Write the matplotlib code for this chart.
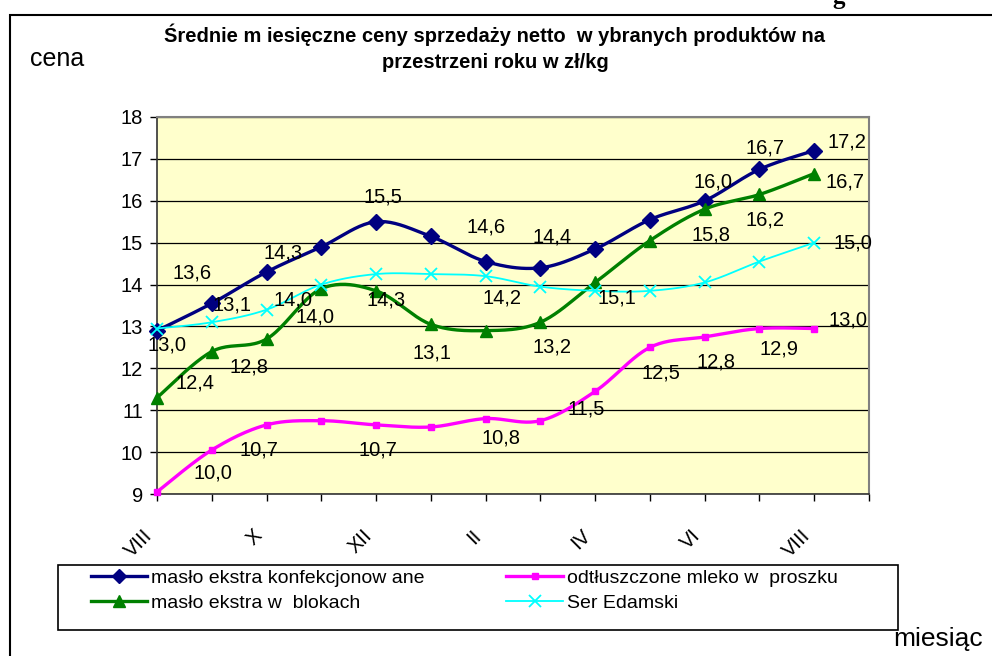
import numpy as np
import matplotlib
matplotlib.use('Agg')
import matplotlib.pyplot as plt
import matplotlib.transforms as mtransforms
from matplotlib.lines import Line2D
from matplotlib.patches import Rectangle

plt.rcParams['font.family'] = ['Liberation Sans', 'DejaVu Sans']

# months (points at every category, labels on every other one)
months = ['VIII', 'IX', 'X', 'XI', 'XII', 'I', 'II', 'III', 'IV', 'V', 'VI', 'VII', 'VIII']

# prices zł/kg
maslo_konf = [12.9, 13.55, 14.3, 14.9, 15.5, 15.15, 14.55, 14.4, 14.85, 15.55, 16.0, 16.75, 17.2]
mleko = [9.05, 10.05, 10.65, 10.75, 10.65, 10.6, 10.8, 10.75, 11.45, 12.5, 12.75, 12.95, 12.95]
maslo_blok = [11.3, 12.4, 12.7, 13.9, 13.85, 13.05, 12.9, 13.1, 14.05, 15.05, 15.8, 16.15, 16.65]
ser = [12.95, 13.1, 13.4, 14.0, 14.25, 14.25, 14.2, 13.95, 13.85, 13.85, 14.05, 14.55, 15.0]

series_names = ['masło ekstra konfekcjonow ane', 'odtłuszczone mleko w  proszku',
                'masło ekstra w  blokach', 'Ser Edamski']

# data labels as they stand on the chart: (text, x, y) in data units
data_labels = [
    ('13,6', 0.64, 14.28), ('14,3', 2.30, 14.75), ('15,5', 4.12, 16.09),
    ('14,6', 6.01, 15.37), ('14,4', 7.21, 15.14), ('16,0', 10.16, 16.45),
    ('16,7', 11.11, 17.26), ('17,2', 12.60, 17.40),
    ('13,1', 1.37, 13.51), ('14,0', 2.48, 13.63), ('14,0', 2.88, 13.23),
    ('14,3', 4.19, 13.63), ('14,2', 6.30, 13.68), ('15,1', 8.40, 13.68),
    ('15,0', 12.71, 14.99),
    ('13,0', 0.18, 12.56), ('12,4', 0.69, 11.65), ('12,8', 1.68, 12.03),
    ('13,1', 5.03, 12.37), ('13,2', 7.21, 12.51), ('15,8', 10.11, 15.18),
    ('16,2', 11.11, 15.54), ('16,7', 12.57, 16.45),
    ('10,0', 1.02, 9.50), ('10,7', 1.86, 10.05), ('10,7', 4.04, 10.05),
    ('10,8', 6.28, 10.34), ('11,5', 7.83, 11.03), ('12,5', 9.20, 11.89),
    ('12,8', 10.20, 12.15), ('12,9', 11.35, 12.46), ('13,0', 12.62, 13.16),
]


def smooth(values, n=24):
    # Excel-like smoothed line (Catmull-Rom as cubic Bezier)
    p = np.column_stack([np.arange(len(values)), np.asarray(values, float)])
    pp = np.vstack([p[0], p, p[-1]])
    t = np.linspace(0, 1, n)[:, None]
    out = []
    for i in range(len(p) - 1):
        b0 = pp[i + 1]
        b3 = pp[i + 2]
        b1 = b0 + (pp[i + 2] - pp[i]) / 6
        b2 = b3 - (pp[i + 3] - pp[i + 1]) / 6
        seg = ((1 - t) ** 3) * b0 + 3 * ((1 - t) ** 2) * t * b1 + 3 * (1 - t) * t ** 2 * b2 + t ** 3 * b3
        out.append(seg if i == 0 else seg[1:])
    out = np.vstack(out)
    return out[:, 0], out[:, 1]


fig = plt.figure(figsize=(9.92, 6.56), dpi=100)
ax = fig.add_axes([157 / 992, 1 - 494 / 656, (869 - 157) / 992, (494 - 117) / 656])
ax.set_facecolor('#FFFFCC')

styles = [
    dict(color='#000080', lw=2.4, marker='D', ms=8, mew=1),
    dict(color='#FF00FF', lw=2.4, marker='s', ms=5, mew=1),
    dict(color='#008000', lw=2.4, marker='^', ms=9, mew=1),
    dict(color='#00FFFF', lw=1.3, marker='x', ms=9, mew=1.3),
]
all_series = [maslo_konf, mleko, maslo_blok, ser]
x = np.arange(len(months))
handles = []
for k, (vals, st) in enumerate(zip(all_series, styles)):
    sx, sy = smooth(vals)
    ax.plot(sx, sy, color=st['color'], lw=st['lw'], zorder=3 + k, solid_capstyle='round')
    ax.plot(x, vals, linestyle='none', marker=st['marker'], ms=st['ms'],
            color=st['color'], mew=st['mew'], zorder=3 + k, clip_on=False)
    handles.append(Line2D([], [], color=st['color'], lw=st['lw'], marker=st['marker'],
                          ms=st['ms'] * 0.9, mew=st['mew']))

for txt, lx, ly in data_labels:
    ax.text(lx, ly, txt, fontsize=14.5, ha='center', va='center', zorder=10)

ax.set_xlim(0, 13)
ax.set_ylim(9, 18)
ax.set_yticks(range(9, 19))
ax.set_xticks(range(0, 14))
ax.set_xticklabels([m if i % 2 == 0 else '' for i, m in enumerate(months)] + [''],
                   rotation=45, ha='right', va='top', rotation_mode='anchor')
ax.tick_params(axis='both', labelsize=14.5, direction='out', length=5, width=1, color='black')
ax.tick_params(axis='x', pad=18)
ax.tick_params(axis='y', pad=5)
shift = mtransforms.ScaledTranslation(-10 / 72, 0, fig.dpi_scale_trans)
for lab in ax.get_xticklabels():
    lab.set_transform(lab.get_transform() + shift)
ax.grid(axis='y', color='black', lw=0.9, zorder=1)
ax.set_axisbelow(True)
for side in ['top', 'right']:
    ax.spines[side].set_color('#808080')
    ax.spines[side].set_linewidth(1.5)
for side in ['left', 'bottom']:
    ax.spines[side].set_color('#333333')
    ax.spines[side].set_linewidth(1.2)

# chart area frame
fig.add_artist(Rectangle((10 / 992, -0.1), 1.2, 1 - 15 / 656 + 0.1, transform=fig.transFigure,
                         fill=False, edgecolor='black', lw=1.5))

fig.text(495 / 992, 1 - 35 / 656, 'Średnie m iesięczne ceny sprzedaży netto  w ybranych produktów na',
         ha='center', va='center', fontsize=14.5, fontweight='bold')
fig.text(495 / 992, 1 - 63 / 656, 'przestrzeni roku w zł/kg',
         ha='center', va='center', fontsize=14.5, fontweight='bold')
fig.text(57 / 992, 1 - 59 / 656, 'cena', ha='center', va='center', fontsize=18)
fig.text(938 / 992, 1 - 639 / 656, 'miesiąc', ha='center', va='center', fontsize=19)
fig.text(839 / 992, 1 - 9 / 656, 'g', ha='center', va='bottom', fontsize=18, fontweight='bold',
         family='Liberation Serif')

# legend box and entries
fig.add_artist(Rectangle((58 / 992, 1 - 630 / 656), 840 / 992, 65 / 656,
                         transform=fig.transFigure, fill=False, edgecolor='black', lw=1.2))
order = [0, 2, 1, 3]
fig.legend([handles[i] for i in order], [series_names[i] for i in order],
           loc='upper left', bbox_to_anchor=(91 / 992, 1 - 569 / 656), ncol=2,
           frameon=False, fontsize=14, borderpad=0, borderaxespad=0,
           handlelength=2.9, handletextpad=0.2, labelspacing=0.4, columnspacing=4.2)

fig.savefig('out.png', dpi=100)
